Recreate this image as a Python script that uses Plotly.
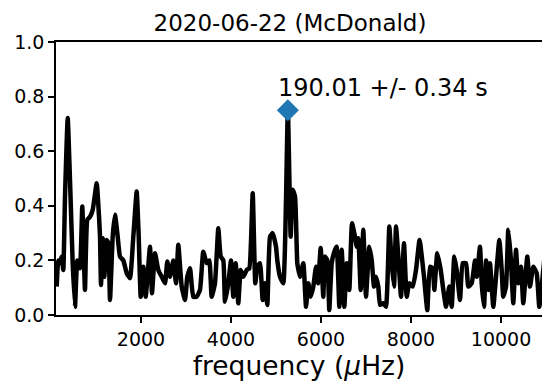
import plotly.graph_objects as go

# Periodogram (frequency in microHz, amplitude)
freq = [127, 162, 200, 238, 273, 311, 371, 422, 482, 533, 584, 644, 695, 755, 807, 867, 927,
        1015, 1067, 1089, 1111, 1149, 1184, 1238, 1273, 1311, 1371, 1422, 1482, 1533, 1607,
        1682, 1755, 1829, 1904, 1949, 1993, 2051, 2104, 2200, 2244, 2311, 2384, 2460, 2533,
        2584, 2644, 2718, 2778, 2829, 2904, 2978, 3029, 3089, 3162, 3238, 3311, 3384, 3460,
        3518, 3571, 3644, 3718, 3771, 3829, 3867, 3940, 4000, 4051, 4104, 4162, 4215, 4273,
        4349, 4407, 4482, 4540, 4584, 4644, 4704, 4755, 4807, 4867, 4927, 5000, 5029, 5089,
        5162, 5263, 5326, 5371, 5422, 5460, 5473, 5533, 5607, 5667, 5718, 5771, 5829, 5889,
        5933, 5993, 6051, 6089, 6140, 6184, 6238, 6311, 6349, 6407, 6460, 6518, 6571, 6629,
        6689, 6755, 6793, 6829, 6882, 6940, 7000, 7073, 7127, 7178, 7222, 7273, 7311, 7384,
        7444, 7518, 7571, 7622, 7667, 7718, 7778, 7844, 7904, 7962, 8038, 8111, 8190, 8289,
        8362, 8422, 8482, 8518, 8584, 8660, 8718, 8778, 8851, 8904, 8962, 9015, 9089, 9149,
        9222, 9273, 9349, 9422, 9460, 9533, 9571, 9622, 9667, 9718, 9755, 9829, 9889, 9962,
        10015, 10051, 10111, 10162, 10215, 10273, 10333, 10384, 10444, 10495, 10584, 10644,
        10718, 10793, 10851, 10911, 10960]
power = [0.104, 0.20, 0.19, 0.214, 0.165, 0.434, 0.722, 0.495, 0.19, 0.03, 0.20, 0.171, 0.397,
         0.092, 0.349, 0.36, 0.385, 0.483, 0.36, 0.287, 0.11, 0.281, 0.14, 0.275, 0.263, 0.055,
         0.287, 0.367, 0.287, 0.214, 0.20, 0.153, 0.135, 0.287, 0.452, 0.287, 0.067, 0.177,
         0.067, 0.25, 0.08, 0.226, 0.165, 0.14, 0.116, 0.196, 0.14, 0.20, 0.116, 0.257, 0.104,
         0.055, 0.14, 0.171, 0.067, 0.067, 0.092, 0.232, 0.19, 0.20, 0.067, 0.116, 0.318, 0.214,
         0.20, 0.049, 0.116, 0.20, 0.067, 0.19, 0.043, 0.165, 0.14, 0.165, 0.171, 0.446, 0.116,
         0.177, 0.19, 0.055, 0.116, 0.037, 0.287, 0.30, 0.25, 0.20, 0.14, 0.116, 0.752, 0.287,
         0.459, 0.434, 0.25, 0.19, 0.14, 0.19, 0.03, 0.116, 0.067, 0.104, 0.177, 0.116, 0.245,
         0.067, 0.214, 0.20, 0.018, 0.19, 0.239, 0.25, 0.03, 0.239, 0.03, 0.19, 0.092, 0.336,
         0.287, 0.25, 0.281, 0.092, 0.312, 0.067, 0.25, 0.20, 0.104, 0.14, 0.104, 0.037, 0.043,
         0.03, 0.324, 0.19, 0.104, 0.324, 0.214, 0.067, 0.263, 0.067, 0.116, 0.104, 0.165,
         0.275, 0.14, 0.018, 0.177, 0.171, 0.092, 0.226, 0.165, 0.092, 0.03, 0.104, 0.03, 0.214,
         0.165, 0.055, 0.19, 0.19, 0.104, 0.116, 0.20, 0.14, 0.25, 0.116, 0.03, 0.20, 0.092,
         0.19, 0.03, 0.14, 0.275, 0.165, 0.067, 0.104, 0.312, 0.214, 0.043, 0.239, 0.116, 0.177,
         0.043, 0.214, 0.104, 0.177, 0.153, 0.03, 0.116, 0.20]

peak_freq = [5263]
peak_power = [0.75]
peak_label = "190.01 +/- 0.34 s"
title_text = "2020-06-22 (McDonald)"
x_range = [111, 10911]
y_range = [0, 1]
x_ticks = [2000, 4000, 6000, 8000, 10000]
y_ticks = [0.0, 0.2, 0.4, 0.6, 0.8, 1.0]

FONT = "DejaVu Sans"

fig = go.Figure()
fig.add_trace(go.Scatter(x=freq, y=power, mode="lines",
                         line=dict(color="black", width=4.5, shape="spline", smoothing=0.4),
                         showlegend=False, hoverinfo="skip"))
fig.add_trace(go.Scatter(x=peak_freq, y=peak_power, mode="markers",
                         marker=dict(symbol="diamond", color="#1f77b4", size=17),
                         showlegend=False))
fig.add_annotation(x=4990, y=0.833, xref="x", yref="y", text=peak_label, showarrow=False,
                   xanchor="left", yanchor="middle",
                   font=dict(family=FONT, size=24, color="black"))

fig.update_layout(
    width=542, height=382,
    margin=dict(l=56, r=0, t=42, b=67),
    paper_bgcolor="white", plot_bgcolor="white",
    font=dict(family=FONT, color="black"),
    title=dict(text=title_text, x=0.4815, xref="paper", xanchor="center",
               y=1 - 22.5 / 382, yref="container", yanchor="middle",
               font=dict(family=FONT, size=23, color="black")),
)
fig.update_xaxes(range=x_range, tickvals=x_ticks, ticktext=[str(v) for v in x_ticks],
                 showgrid=False, zeroline=False, showline=True, linecolor="black", linewidth=1.5,
                 mirror=True, ticks="outside", ticklen=6, tickwidth=1.5, tickcolor="black",
                 tickfont=dict(family=FONT, size=19, color="black"),
                 title=dict(text="frequency (<i>μ</i>Hz)", standoff=8,
                            font=dict(family=FONT, size=26.5, color="black")),
                 automargin=False)
fig.update_yaxes(range=y_range, tickvals=y_ticks, ticktext=[f"{v:.1f}" for v in y_ticks],
                 showgrid=False, zeroline=False, showline=True, linecolor="black", linewidth=1.5,
                 ticks="outside", ticklen=6, tickwidth=1.5, tickcolor="black",
                 tickfont=dict(family=FONT, size=19, color="black"),
                 automargin=False)

fig.write_html("out.html")
